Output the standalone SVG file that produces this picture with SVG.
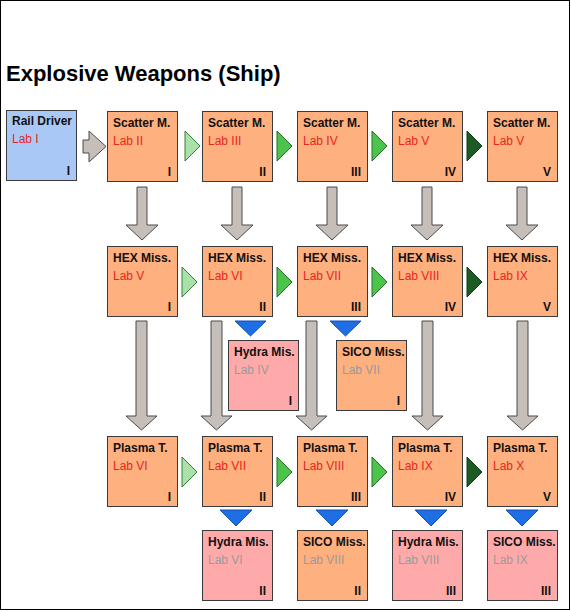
<svg xmlns="http://www.w3.org/2000/svg" width="571" height="611" viewBox="0 0 571 611">
<style>
  .box { stroke: #3a3a3a; stroke-width: 1; }
  .blue { fill: #AAC8F5; }
  .org { fill: #FFB07F; }
  .pink { fill: #FFAAAA; }
  text { font-family: "Liberation Sans", Arial, sans-serif; font-size: 12px; }
  .t { font-weight: bold; fill: #111; }
  .lab { fill: #E8261C; }
  .labg { fill: #9A9A9A; }
  .num { font-weight: bold; fill: #111; text-anchor: end; }
  .title { font-size: 22px; font-weight: bold; fill: #000; }
  .garrow { fill: #C6BEB9; stroke: #4a4a4a; stroke-width: 1; }
  .g1 { fill: #A8E2A8; stroke: #3a7a3a; stroke-width: 1; }
  .g2 { fill: #4CC44C; stroke: #2a6a2a; stroke-width: 1; }
  .g3 { fill: #1C5C24; stroke: #123a16; stroke-width: 1; }
  .bt { fill: #1E6FE6; stroke: #1450B0; stroke-width: 1; }
</style>
<rect x="0.5" y="0.5" width="569" height="609" fill="#fff" stroke="#000" stroke-width="1"/>
<text class="title" x="6" y="81">Explosive Weapons (Ship)</text>

<g id="connectors">
  <path class="garrow" d="M83,140 H89 V131 L106,146.5 L89,162 V153 H83 Z"/>
  <path class="garrow" d="M137,187 H147 V225 H158 L142,240 L126,225 H137 Z"/>
  <path class="garrow" d="M232,187 H242 V225 H253 L237,240 L221,225 H232 Z"/>
  <path class="garrow" d="M327,187 H337 V225 H348 L332,240 L316,225 H327 Z"/>
  <path class="garrow" d="M422,187 H432 V225 H443 L427,240 L411,225 H422 Z"/>
  <path class="garrow" d="M517,187 H527 V225 H538 L522,240 L506,225 H517 Z"/>
  <path class="garrow" d="M136,321 H147 V416 H157 L141.5,430 L126,416 H136 Z"/>
  <path class="garrow" d="M211,321 H222 V416 H232 L216.5,430 L201,416 H211 Z"/>
  <path class="garrow" d="M306,321 H317 V416 H327 L311.5,430 L296,416 H306 Z"/>
  <path class="garrow" d="M422,321 H433 V416 H443 L427.5,430 L412,416 H422 Z"/>
  <path class="garrow" d="M517,321 H528 V416 H538 L522.5,430 L507,416 H517 Z"/>
  <polygon class="g1" points="185,131 200,146 185,161"/>
  <polygon class="g2" points="277,131 292,146 277,161"/>
  <polygon class="g2" points="372,131 387,146 372,161"/>
  <polygon class="g3" points="467,131 482,146 467,161"/>
  <polygon class="g1" points="182,267 197,282 182,297"/>
  <polygon class="g2" points="277,267 292,282 277,297"/>
  <polygon class="g2" points="372,267 387,282 372,297"/>
  <polygon class="g3" points="467,267 482,282 467,297"/>
  <polygon class="g1" points="182,457 197,472 182,487"/>
  <polygon class="g2" points="277,457 292,472 277,487"/>
  <polygon class="g2" points="372,457 387,472 372,487"/>
  <polygon class="g3" points="467,457 482,472 467,487"/>
  <polygon class="bt" points="235,321 266,321 250.5,336"/>
  <polygon class="bt" points="330,321 361,321 345.5,336"/>
  <polygon class="bt" points="220,510 252,510 236,526"/>
  <polygon class="bt" points="316,510 348,510 332,526"/>
  <polygon class="bt" points="415,510 447,510 431,526"/>
  <polygon class="bt" points="506,510 538,510 522,526"/>
</g>

<g id="rail-driver"><rect class="box blue" x="6.5" y="110.5" width="70" height="70"/><text class="t" x="12" y="125">Rail Driver</text><text class="lab" x="12" y="143">Lab I</text><text class="num" x="70" y="175">I</text></g>

<g id="scatter-1"><rect class="box org" x="107.5" y="111.5" width="70" height="70"/><text class="t" x="113" y="127">Scatter M.</text><text class="lab" x="113" y="145">Lab II</text><text class="num" x="171" y="176">I</text></g>
<g id="scatter-2"><rect class="box org" x="202.5" y="111.5" width="70" height="70"/><text class="t" x="208" y="127">Scatter M.</text><text class="lab" x="208" y="145">Lab III</text><text class="num" x="266" y="176">II</text></g>
<g id="scatter-3"><rect class="box org" x="297.5" y="111.5" width="70" height="70"/><text class="t" x="303" y="127">Scatter M.</text><text class="lab" x="303" y="145">Lab IV</text><text class="num" x="361" y="176">III</text></g>
<g id="scatter-4"><rect class="box org" x="392.5" y="111.5" width="70" height="70"/><text class="t" x="398" y="127">Scatter M.</text><text class="lab" x="398" y="145">Lab V</text><text class="num" x="456" y="176">IV</text></g>
<g id="scatter-5"><rect class="box org" x="487.5" y="111.5" width="70" height="70"/><text class="t" x="493" y="127">Scatter M.</text><text class="lab" x="493" y="145">Lab V</text><text class="num" x="551" y="176">V</text></g>

<g id="hex-1"><rect class="box org" x="107.5" y="246.5" width="70" height="70"/><text class="t" x="113" y="262">HEX Miss.</text><text class="lab" x="113" y="280">Lab V</text><text class="num" x="171" y="311">I</text></g>
<g id="hex-2"><rect class="box org" x="202.5" y="246.5" width="70" height="70"/><text class="t" x="208" y="262">HEX Miss.</text><text class="lab" x="208" y="280">Lab VI</text><text class="num" x="266" y="311">II</text></g>
<g id="hex-3"><rect class="box org" x="297.5" y="246.5" width="70" height="70"/><text class="t" x="303" y="262">HEX Miss.</text><text class="lab" x="303" y="280">Lab VII</text><text class="num" x="361" y="311">III</text></g>
<g id="hex-4"><rect class="box org" x="392.5" y="246.5" width="70" height="70"/><text class="t" x="398" y="262">HEX Miss.</text><text class="lab" x="398" y="280">Lab VIII</text><text class="num" x="456" y="311">IV</text></g>
<g id="hex-5"><rect class="box org" x="487.5" y="246.5" width="70" height="70"/><text class="t" x="493" y="262">HEX Miss.</text><text class="lab" x="493" y="280">Lab IX</text><text class="num" x="551" y="311">V</text></g>

<g id="hydra-1"><rect class="box pink" x="228.5" y="340.5" width="70" height="70"/><text class="t" x="234" y="356">Hydra Mis.</text><text class="labg" x="234" y="374">Lab IV</text><text class="num" x="292" y="405">I</text></g>
<g id="sico-1"><rect class="box org" x="336.5" y="340.5" width="70" height="70"/><text class="t" x="342" y="356">SICO Miss.</text><text class="labg" x="342" y="374">Lab VII</text><text class="num" x="400" y="405">I</text></g>

<g id="plasma-1"><rect class="box org" x="107.5" y="436.5" width="70" height="70"/><text class="t" x="113" y="452">Plasma T.</text><text class="lab" x="113" y="470">Lab VI</text><text class="num" x="171" y="501">I</text></g>
<g id="plasma-2"><rect class="box org" x="202.5" y="436.5" width="70" height="70"/><text class="t" x="208" y="452">Plasma T.</text><text class="lab" x="208" y="470">Lab VII</text><text class="num" x="266" y="501">II</text></g>
<g id="plasma-3"><rect class="box org" x="297.5" y="436.5" width="70" height="70"/><text class="t" x="303" y="452">Plasma T.</text><text class="lab" x="303" y="470">Lab VIII</text><text class="num" x="361" y="501">III</text></g>
<g id="plasma-4"><rect class="box org" x="392.5" y="436.5" width="70" height="70"/><text class="t" x="398" y="452">Plasma T.</text><text class="lab" x="398" y="470">Lab IX</text><text class="num" x="456" y="501">IV</text></g>
<g id="plasma-5"><rect class="box org" x="487.5" y="436.5" width="70" height="70"/><text class="t" x="493" y="452">Plasma T.</text><text class="lab" x="493" y="470">Lab X</text><text class="num" x="551" y="501">V</text></g>

<g id="hydra-2"><rect class="box pink" x="202.5" y="530.5" width="70" height="70"/><text class="t" x="208" y="546">Hydra Mis.</text><text class="labg" x="208" y="564">Lab VI</text><text class="num" x="266" y="595">II</text></g>
<g id="sico-2"><rect class="box org" x="297.5" y="530.5" width="70" height="70"/><text class="t" x="303" y="546">SICO Miss.</text><text class="labg" x="303" y="564">Lab VIII</text><text class="num" x="361" y="595">II</text></g>
<g id="hydra-3"><rect class="box pink" x="392.5" y="530.5" width="70" height="70"/><text class="t" x="398" y="546">Hydra Mis.</text><text class="labg" x="398" y="564">Lab VIII</text><text class="num" x="456" y="595">III</text></g>
<g id="sico-3"><rect class="box pink" x="487.5" y="530.5" width="70" height="70"/><text class="t" x="493" y="546">SICO Miss.</text><text class="labg" x="493" y="564">Lab IX</text><text class="num" x="551" y="595">III</text></g>
</svg>
